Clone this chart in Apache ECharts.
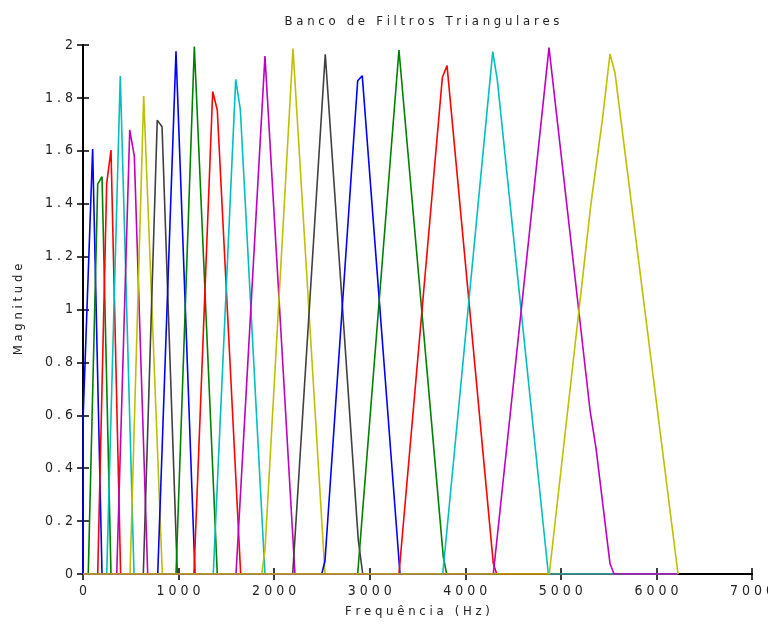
<!DOCTYPE html>
<html>
<head>
<meta charset="utf-8">
<script src="https://cdn.jsdelivr.net/npm/echarts@6/dist/echarts.min.js"></script>
<style>
  html, body { margin: 0; padding: 0; background: #fff; }
  #chart { width: 768px; height: 624px; }
</style>
</head>
<body>
<div id="chart"></div>
<script>
// triangular filters, [frequency Hz, magnitude]
const f01 = [[0, 0], [2, 0.6], [101, 1.607], [199, 0], [6226, 0]];
const f02 = [[0, 0], [55, 0], [154, 1.474], [199, 1.502], [293, 0], [6226, 0]];
const f03 = [[0, 0], [154, 0], [248, 1.477], [293, 1.603], [394, 0], [6226, 0]];
const f04 = [[0, 0], [248, 0], [390, 1.883], [534, 0], [6226, 0]];
const f05 = [[0, 0], [353, 0], [489, 1.679], [537, 1.58], [677, 0], [6226, 0]];
const f06 = [[0, 0], [492, 0], [635, 1.807], [830, 0], [6226, 0]];
const f07 = [[0, 0], [631, 0], [777, 1.716], [827, 1.691], [987, 0], [6226, 0]];
const f08 = [[0, 0], [782, 0], [973, 1.976], [1172, 0], [6226, 0]];
const f09 = [[0, 0], [973, 0], [1165, 1.994], [1405, 0], [6226, 0]];
const f10 = [[0, 0], [1161, 0], [1357, 1.824], [1405, 1.754], [1650, 0], [6226, 0]];
const f11 = [[0, 0], [1363, 0], [1598, 1.87], [1646, 1.757], [1904, 0], [6226, 0]];
const f12 = [[0, 0], [1601, 0], [1904, 1.958], [2218, 0], [6226, 0]];
const f13 = [[0, 0], [1870, 0], [1904, 0.09], [2197, 1.987], [2532, 0], [6226, 0]];
const f14 = [[0, 0], [2194, 0], [2535, 1.965], [2880, 0.13], [2927, 0], [6226, 0]];
const f15 = [[0, 0], [2498, 0], [2532, 0.05], [2874, 1.865], [2922, 1.884], [3317, 0], [6226, 0]];
const f16 = [[0, 0], [2874, 0], [3306, 1.981], [3770, 0.065], [3805, 0], [6226, 0]];
const f17 = [[0, 0], [3306, 0], [3760, 1.877], [3809, 1.922], [4293, 0.04], [4329, 0], [6226, 0]];
const f18 = [[0, 0], [3764, 0], [4287, 1.975], [4335, 1.868], [4869, 0], [6226, 0]];
const f19 = [[0, 0], [4293, 0], [4876, 1.99], [5305, 0.62], [5368, 0.475], [5514, 0.04], [5556, 0], [6226, 0]];
const f20 = [[0, 0], [4879, 0], [5315, 1.4], [5434, 1.716], [5514, 1.966], [5567, 1.893], [6226, 0]];

const filters = [f01, f02, f03, f04, f05, f06, f07, f08, f09, f10,
                 f11, f12, f13, f14, f15, f16, f17, f18, f19, f20];

const xTicks = [0, 7000, 1000];   // min, max, step
const yTicks = [0, 2, 0.2];

const titleText = 'Banco de Filtros Triangulares';
const xName = 'Frequência (Hz)';
const yName = 'Magnitude';

// matlab's old colour order
const colors = ['#0000ff', '#008000', '#ff0000', '#00bfbf', '#bf00bf', '#bfbf00', '#404040'];
const font = '"Liberation Sans Narrow", "DejaVu Sans Condensed", sans-serif';

// the original spreads every glyph out
const spread = s => s.split('').join(' ');

const chart = echarts.init(document.getElementById('chart'), null, { renderer: 'canvas' });

const tickStyle = { show: true, inside: true, length: 6, lineStyle: { color: '#000', width: 1.5 } };
const lineAxis = { show: true, lineStyle: { color: '#000', width: 2 } };
const lbl = { color: '#222', fontSize: 14, fontFamily: font };
const nameLbl = { color: '#222', fontSize: 13, fontFamily: font };

const option = {
  animation: false,
  backgroundColor: '#fff',
  title: {
    text: spread(titleText),
    left: 417,
    top: 10,
    textAlign: 'center',
    textStyle: { fontSize: 13, fontWeight: 'normal', color: '#222', fontFamily: font }
  },
  grid: { left: 83, right: 16, top: 45, bottom: 50, containLabel: false, outerBoundsMode: 'none' },
  xAxis: [{
    type: 'value',
    min: xTicks[0], max: xTicks[1], interval: xTicks[2],
    name: spread(xName),
    nameLocation: 'middle',
    nameGap: 31,
    nameTextStyle: nameLbl,
    axisLine: lineAxis,
    axisTick: tickStyle,
    splitLine: { show: false },
    axisLabel: Object.assign({ margin: 10, formatter: v => spread(String(v)) }, lbl)
  }, {
    type: 'value', position: 'top',
    min: xTicks[0], max: xTicks[1], interval: xTicks[2],
    axisLine: lineAxis, axisTick: tickStyle,
    splitLine: { show: false }, axisLabel: { show: false }
  }],
  yAxis: [{
    type: 'value',
    min: yTicks[0], max: yTicks[1], interval: yTicks[2],
    name: spread(yName),
    nameLocation: 'middle',
    nameGap: 58,
    nameTextStyle: nameLbl,
    axisLine: lineAxis,
    axisTick: tickStyle,
    splitLine: { show: false },
    axisLabel: Object.assign({ margin: 10, formatter: v => spread(String(Math.round(v * 10) / 10)) }, lbl)
  }, {
    type: 'value', position: 'right',
    min: yTicks[0], max: yTicks[1], interval: yTicks[2],
    axisLine: lineAxis, axisTick: tickStyle,
    splitLine: { show: false }, axisLabel: { show: false }
  }],
  series: filters.map((d, i) => ({
    type: 'line',
    data: d,
    showSymbol: false,
    symbol: 'none',
    clip: true,
    lineStyle: { color: colors[i % colors.length], width: 1.6 },
    z: 3
  }))
};

chart.setOption(option);
</script>
</body>
</html>
